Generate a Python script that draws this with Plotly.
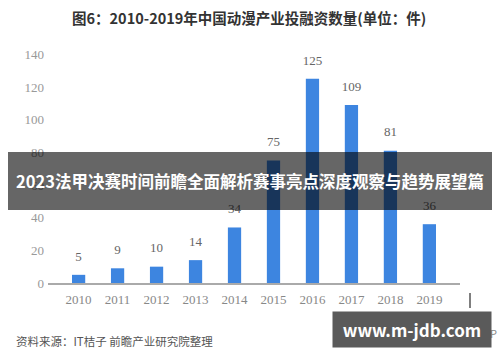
import plotly.graph_objects as go

years = ["2010", "2011", "2012", "2013", "2014", "2015", "2016", "2017", "2018", "2019"]
counts = [5, 9, 10, 14, 34, 75, 125, 109, 81, 36]
y_ticks = [0, 20, 40, 60, 80, 100, 120, 140]

title_text = "图6：2010-2019年中国动漫产业投融资数量(单位：件)"
banner_text = "2023法甲决赛时间前瞻全面解析赛事亮点深度观察与趋势展望篇"
source_text = "资料来源：IT桔子 前瞻产业研究院整理"
site_text = "www.m-jdb.com"
app_text = "@前瞻经济学人APP"

serif = "Liberation Serif"
cjk = "Noto Sans CJK SC"

fig = go.Figure()
fig.add_trace(go.Bar(
    x=years, y=counts, width=0.34,
    marker=dict(color="#3d85e0", line=dict(width=0)),
    hoverinfo="skip", showlegend=False,
))
fig.add_trace(go.Scatter(
    x=years, y=counts, mode="markers+text",
    text=[str(v) for v in counts], textposition="top center",
    textfont=dict(family=serif, size=13, color="#666666"),
    marker=dict(size=16, color="rgba(0,0,0,0)"),
    hoverinfo="skip", showlegend=False, cliponaxis=False,
))

L, R, T, B = 48, 40, 38, 79
W, H = 500, 362
pw = W - L - R
ph = H - T - B

def px_x(p):
    return (p - L) / pw

def px_y(p):
    return (H - B - p) / ph

fig.update_layout(
    width=W, height=H,
    margin=dict(l=L, r=R, t=T, b=B, pad=0),
    paper_bgcolor="white", plot_bgcolor="white",
    xaxis=dict(
        type="category", showgrid=False, zeroline=False,
        showline=True, linecolor="#aaaaaa", linewidth=1.5,
        ticks="", tickfont=dict(family=serif, size=13, color="#888888"),
        ticklabelstandoff=4,
    ),
    yaxis=dict(
        range=[0, 150], tickvals=y_ticks, showgrid=False, zeroline=False,
        showline=False, ticks="",
        tickfont=dict(family=serif, size=13, color="#999999"),
        ticklabelstandoff=3,
    ),
    shapes=[
        dict(type="rect", xref="paper", yref="paper",
             x0=px_x(8), x1=px_x(492), y0=px_y(210), y1=px_y(152),
             fillcolor="rgba(0,0,0,0.6)", line=dict(width=0), layer="above"),
        dict(type="line", xref="paper", yref="paper",
             x0=px_x(470), x1=px_x(470), y0=px_y(293), y1=px_y(308),
             line=dict(color="#555555", width=1.5), layer="above"),
    ],
)

fig.add_annotation(
    x=px_x(249), y=px_y(17), xref="paper", yref="paper",
    text="<b>" + title_text + "</b>", showarrow=False,
    font=dict(family=cjk, size=14.5, color="#333333"),
    xanchor="center", yanchor="middle",
)
fig.add_annotation(
    x=px_x(250), y=px_y(181), xref="paper", yref="paper",
    text="<b>" + banner_text + "</b>", showarrow=False,
    font=dict(family=cjk, size=16.5, color="white"),
    xanchor="center", yanchor="middle",
)
fig.add_annotation(
    x=px_x(14), y=px_y(341), xref="paper", yref="paper",
    text=source_text, showarrow=False,
    font=dict(family=cjk, size=11.5, color="#555555"),
    xanchor="left", yanchor="middle",
)
fig.add_annotation(
    x=px_x(499), y=px_y(333), xref="paper", yref="paper",
    text=app_text, showarrow=False,
    font=dict(family=cjk, size=11, color="#888888"),
    xanchor="right", yanchor="middle",
)
fig.add_annotation(
    x=px_x(412), y=px_y(329), xref="paper", yref="paper",
    text="<b>" + site_text + "</b>", showarrow=False,
    font=dict(family=cjk, size=17, color="white"),
    bgcolor="#5a5a5a", borderpad=5, width=148,
    xanchor="center", yanchor="middle",
)

fig.write_html("out.html")
